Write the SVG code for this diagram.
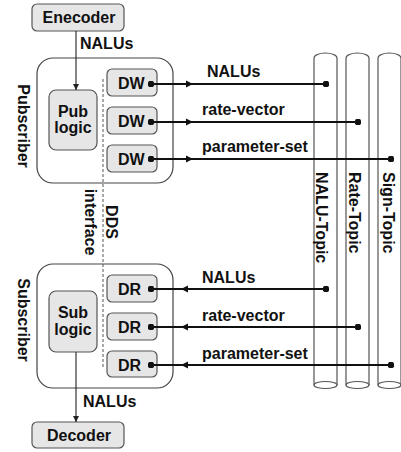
<svg xmlns="http://www.w3.org/2000/svg" width="401" height="452" viewBox="0 0 401 452">
<defs>
<style>
text{font-family:"Liberation Sans",Arial,sans-serif;font-weight:bold;font-size:16px;fill:#111}
.box{fill:#e6e6e6;stroke:#555;stroke-width:1.2}
.outer{fill:#fff;stroke:#444;stroke-width:1.2}
.cyl{fill:#fff;stroke:#555;stroke-width:1.2}
.thin{fill:none;stroke:#222;stroke-width:1.1}
.conn{fill:none;stroke:#111;stroke-width:2}
.dash{fill:none;stroke:#555;stroke-width:1;stroke-dasharray:3,2}
.mid{text-anchor:middle}
</style>
<marker id="ar" viewBox="0 0 10 10" refX="10" refY="5" markerWidth="7" markerHeight="8" markerUnits="userSpaceOnUse" orient="auto"><path d="M0,0 L10,5 L0,10 z" fill="#111"/></marker>
<marker id="sm" viewBox="0 0 10 10" refX="10" refY="5" markerWidth="6" markerHeight="6" markerUnits="userSpaceOnUse" orient="auto"><path d="M0,0 L10,5 L0,10 z" fill="#222"/></marker>
<marker id="dot" viewBox="0 0 10 10" refX="5" refY="5" markerWidth="6.5" markerHeight="6.5" markerUnits="userSpaceOnUse"><circle cx="5" cy="5" r="5" fill="#111"/></marker>
</defs>

<g id="nalu-topic"><path class="cyl" d="M314,385 V58 A11.5,5 0 0 1 337,58 V385"/><ellipse class="cyl" cx="325.5" cy="385" rx="11.5" ry="3.5"/><text transform="translate(316,172) rotate(90)">NALU-Topic</text></g>
<g id="rate-topic"><path class="cyl" d="M346,385 V58 A11.5,5 0 0 1 369,58 V385"/><ellipse class="cyl" cx="357.5" cy="385" rx="11.5" ry="3.5"/><text transform="translate(349,172) rotate(90)">Rate-Topic</text></g>
<g id="sign-topic"><path class="cyl" d="M378,385 V58 A11.5,5 0 0 1 401,58 V385"/><ellipse class="cyl" cx="389.5" cy="385" rx="11.5" ry="3.5"/><text transform="translate(383,172) rotate(90)">Sign-Topic</text></g>

<g id="publisher"><rect class="outer" x="37" y="58" width="136" height="125" rx="16"/><text class="mid" transform="translate(18,126) rotate(90)">Pubscriber</text></g>
<g id="subscriber"><rect class="outer" x="37" y="264" width="136" height="124" rx="16"/><text class="mid" transform="translate(18,320) rotate(90)">Subscriber</text></g>

<g id="dds-interface"><path class="dash" d="M103,79 V367"/><text class="mid" transform="translate(85,222) rotate(90)">interface</text><text class="mid" transform="translate(106,222) rotate(90)">DDS</text></g>

<g id="encoder"><rect class="box" x="32" y="4" width="92" height="27" rx="5"/><text class="mid" x="79" y="23">Enecoder</text></g>
<g id="decoder"><rect class="box" x="32" y="422" width="92" height="26" rx="5"/><text class="mid" x="79" y="441">Decoder</text></g>
<g id="pub-logic"><rect class="box" x="49" y="90" width="48" height="60" rx="7"/><text class="mid" x="73" y="117">Pub</text><text class="mid" x="73" y="133">logic</text></g>
<g id="sub-logic"><rect class="box" x="49" y="291" width="48" height="61" rx="7"/><text class="mid" x="73" y="318">Sub</text><text class="mid" x="73" y="335">logic</text></g>

<g id="dw1"><rect class="box" x="107" y="69" width="50" height="27" rx="5"/><text x="118" y="89">DW</text></g>
<g id="dw2"><rect class="box" x="107" y="107" width="50" height="27" rx="5"/><text x="118" y="127">DW</text></g>
<g id="dw3"><rect class="box" x="107" y="145" width="50" height="27" rx="5"/><text x="118" y="165">DW</text></g>
<g id="dr1"><rect class="box" x="107" y="275" width="50" height="27" rx="5"/><text x="118" y="295">DR</text></g>
<g id="dr2"><rect class="box" x="107" y="313" width="50" height="27" rx="5"/><text x="118" y="333">DR</text></g>
<g id="dr3"><rect class="box" x="107" y="351" width="50" height="26" rx="5"/><text x="118" y="371">DR</text></g>

<g id="connectors">
<path class="thin" d="M76,31 V90" marker-end="url(#sm)"/>
<text x="80" y="49">NALUs</text>
<path class="thin" d="M76,352 V422" marker-end="url(#sm)"/>
<text x="83" y="407">NALUs</text>

<path class="conn" d="M151,84 L193,84 L326,84" marker-start="url(#dot)" marker-mid="url(#ar)" marker-end="url(#dot)"/>
<text x="207" y="77">NALUs</text>
<path class="conn" d="M151,122 L193,122 L358,122" marker-start="url(#dot)" marker-mid="url(#ar)" marker-end="url(#dot)"/>
<text x="202" y="115">rate-vector</text>
<path class="conn" d="M151,159 L193,159 L391,159" marker-start="url(#dot)" marker-mid="url(#ar)" marker-end="url(#dot)"/>
<text x="202" y="152">parameter-set</text>

<path class="conn" d="M326,289 L181,289 L151,289" marker-start="url(#dot)" marker-mid="url(#ar)" marker-end="url(#dot)"/>
<text x="202" y="283">NALUs</text>
<path class="conn" d="M358,327 L181,327 L151,327" marker-start="url(#dot)" marker-mid="url(#ar)" marker-end="url(#dot)"/>
<text x="202" y="321">rate-vector</text>
<path class="conn" d="M391,365 L181,365 L151,365" marker-start="url(#dot)" marker-mid="url(#ar)" marker-end="url(#dot)"/>
<text x="202" y="359">parameter-set</text>
</g>
</svg>
